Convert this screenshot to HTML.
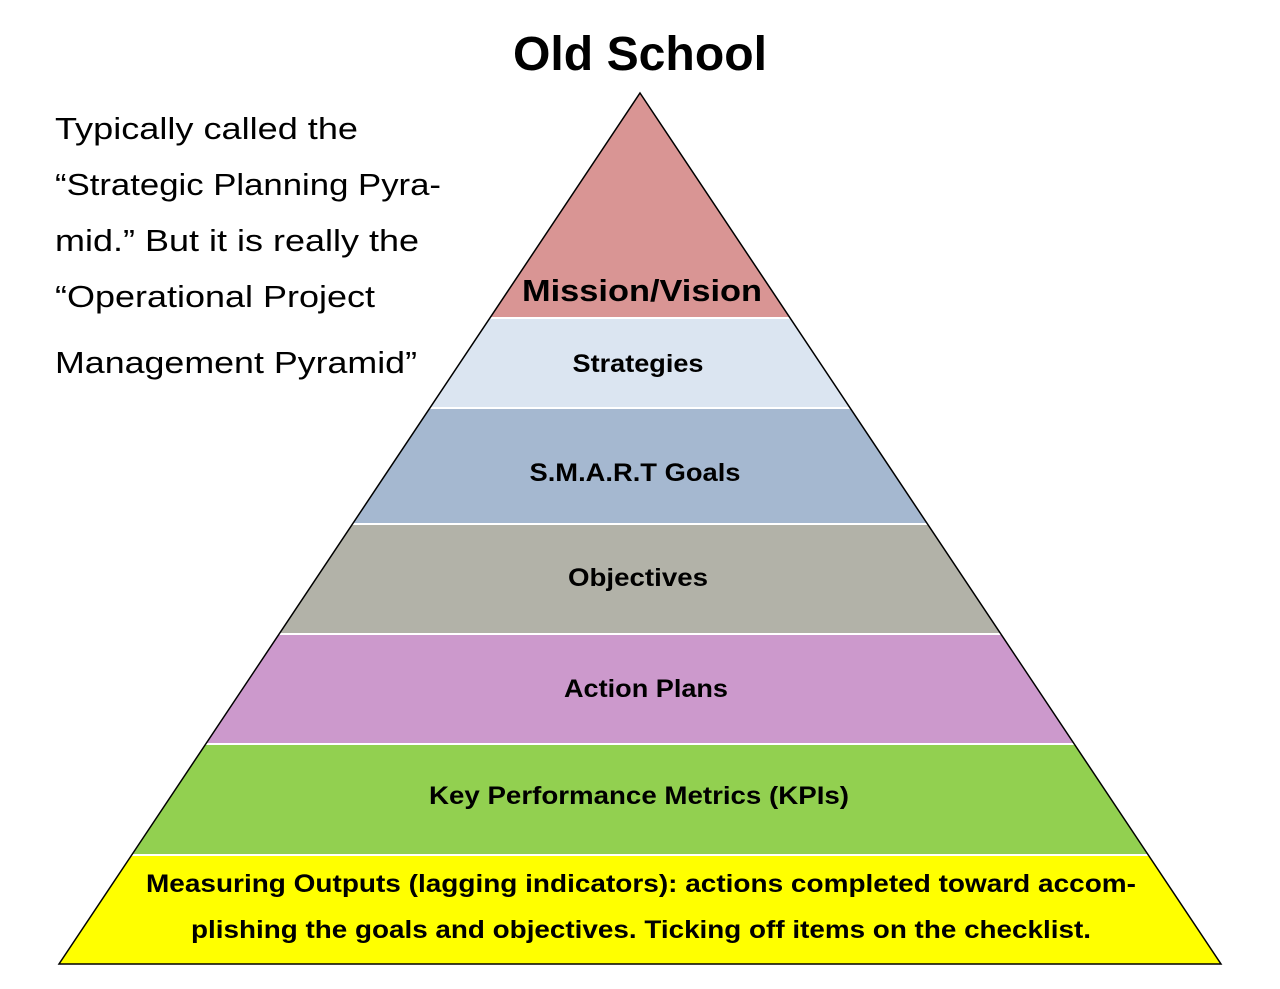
<!DOCTYPE html>
<html><head><meta charset="utf-8"><style>
html,body{margin:0;padding:0;background:#fff;}
svg{display:block;}
text{font-family:"Liberation Sans",sans-serif;}
</style></head><body>
<svg width="1280" height="989" viewBox="0 0 1280 989" xmlns="http://www.w3.org/2000/svg">
<defs>
<clipPath id="tri"><polygon points="640,93 1221,964 59,964"/></clipPath>
</defs>
<text x="640" y="70" text-anchor="middle" font-size="48" font-weight="bold" textLength="254" lengthAdjust="spacingAndGlyphs">Old School</text>
<g font-size="31" fill="#000">
<text x="55" y="139" textLength="303" lengthAdjust="spacingAndGlyphs">Typically  called the</text>
<text x="55" y="195" textLength="386" lengthAdjust="spacingAndGlyphs">“Strategic Planning Pyra-</text>
<text x="55" y="251" textLength="364" lengthAdjust="spacingAndGlyphs">mid.” But it is really the</text>
<text x="55" y="307" textLength="320" lengthAdjust="spacingAndGlyphs">“Operational Project</text>
<text x="55" y="373" textLength="362" lengthAdjust="spacingAndGlyphs">Management Pyramid”</text>
</g>
<g clip-path="url(#tri)">
<rect x="0" y="90" width="1280" height="227" fill="#d99594"/>
<rect x="0" y="319" width="1280" height="88" fill="#dbe5f1"/>
<rect x="0" y="409" width="1280" height="114" fill="#a5b8d0"/>
<rect x="0" y="525" width="1280" height="108" fill="#b2b2a8"/>
<rect x="0" y="635" width="1280" height="108" fill="#cc99cc"/>
<rect x="0" y="745" width="1280" height="109" fill="#92d050"/>
<rect x="0" y="856" width="1280" height="110" fill="#ffff00"/>
</g>
<polygon points="640,93 1221,964 59,964" fill="none" stroke="#000" stroke-width="1.5"/>
<g font-weight="bold" text-anchor="middle" fill="#000">
<text x="642" y="301" font-size="31" textLength="240" lengthAdjust="spacingAndGlyphs">Mission/Vision</text>
<text x="638" y="372" font-size="25" textLength="131" lengthAdjust="spacingAndGlyphs">Strategies</text>
<text x="635" y="481" font-size="25" textLength="211" lengthAdjust="spacingAndGlyphs">S.M.A.R.T Goals</text>
<text x="638" y="586" font-size="25" textLength="140" lengthAdjust="spacingAndGlyphs">Objectives</text>
<text x="646" y="697" font-size="25" textLength="164" lengthAdjust="spacingAndGlyphs">Action Plans</text>
<text x="639" y="804" font-size="25" textLength="420" lengthAdjust="spacingAndGlyphs">Key Performance Metrics (KPIs)</text>
<text x="641" y="892" font-size="25" textLength="990" lengthAdjust="spacingAndGlyphs">Measuring Outputs (lagging indicators): actions completed toward accom-</text>
<text x="641" y="938" font-size="25" textLength="900" lengthAdjust="spacingAndGlyphs">plishing the goals and objectives.  Ticking off items on the checklist.</text>
</g>
</svg>
</body></html>
